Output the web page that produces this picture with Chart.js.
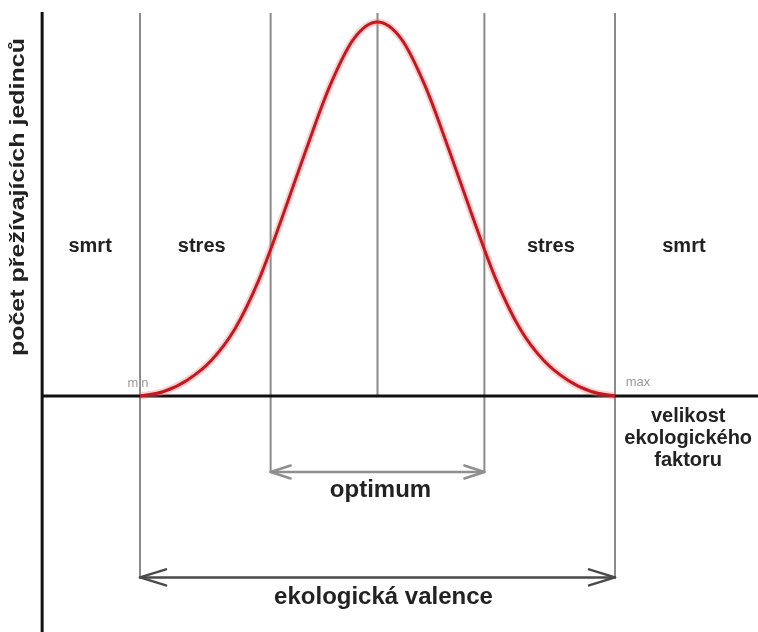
<!DOCTYPE html>
<html><head><meta charset="utf-8">
<script src="https://cdn.jsdelivr.net/npm/chart.js@4/dist/chart.umd.min.js"></script>
<style>html,body{margin:0;padding:0;background:#fff}#wrap{width:758px;height:632px;position:relative}</style>
</head><body><div id="wrap"><canvas id="c"></canvas></div>
<script>
// ---- data ----
const factorX   = [0, 0.5, 1, 1.5, 2, 2.5, 3, 3.5, 4, 4.5, 5, 5.5, 6, 6.5, 7, 7.5, 8, 8.5, 9, 9.5, 10];
const survivors = [0, 1.2, 4.3, 9.5, 18, 31, 48, 66, 83, 95.5, 100, 95.5, 83, 66, 48, 31, 18, 9.5, 4.3, 1.2, 0];
const boundaryX      = [0, 2.75, 5, 7.25, 10];
const boundaryBottom = [-48.5, -20.3, 0, -20.3, -48.5];
const boundaryTop    = 102.4;
const zoneLabels = ['smrt', 'stres', 'stres', 'smrt'];
const zoneX      = [-1.05, 1.3, 8.65, 11.45];
const zoneY      = 40;
const axisX = -2.06, axisTop = 102.7, axisBottom = -63.1, axisRight = 13.01;
const yTitle = 'počet přežívajících jedinců';
const xTitleLines = ['velikost', 'ekologického', 'faktoru'];
const endLabels = ['min', 'max'];
const optimumRange = [2.75, 7.25], optimumY = -20.3, optimumLabel = 'optimum';
const valenceRange = [0, 10], valenceY = -48.5, valenceLabel = 'ekologická valence';

// ---- datasets ----
const curvePts = factorX.map((x, i) => ({x, y: survivors[i]}));
const datasets = [
  {data: curvePts, borderColor: '#c8161e', borderWidth: 3, pointRadius: 0, cubicInterpolationMode: 'monotone', order: 0, clip: false},
  {data: curvePts, borderColor: 'rgba(235,120,120,0.35)', borderWidth: 7, pointRadius: 0, cubicInterpolationMode: 'monotone', order: 1, clip: false},
  {data: [{x: axisX, y: 0}, {x: axisRight, y: 0}], borderColor: '#111', borderWidth: 3, pointRadius: 0, order: 2, clip: false},
  {data: [{x: axisX, y: axisTop}, {x: axisX, y: axisBottom}], borderColor: '#111', borderWidth: 3, pointRadius: 0, order: 2, clip: false}
];
boundaryX.forEach((bx, i) => {
  datasets.push({data: [{x: bx, y: boundaryTop}, {x: bx, y: boundaryBottom[i]}], borderColor: '#8a8a8a', borderWidth: 2, pointRadius: 0, order: 3, clip: false});
});

function arrow(ctx, x1, x2, y, len, spread, color, w) {
  ctx.save();
  ctx.strokeStyle = color; ctx.lineWidth = w; ctx.lineCap = 'round'; ctx.lineJoin = 'round';
  ctx.beginPath(); ctx.moveTo(x1, y); ctx.lineTo(x2, y); ctx.stroke();
  ctx.beginPath(); ctx.moveTo(x1 + len, y - spread); ctx.lineTo(x1, y); ctx.lineTo(x1 + len, y + spread); ctx.stroke();
  ctx.beginPath(); ctx.moveTo(x2 - len, y - spread); ctx.lineTo(x2, y); ctx.lineTo(x2 - len, y + spread); ctx.stroke();
  ctx.restore();
}

const annot = {
  id: 'annot',
  afterDatasetsDraw(chart) {
    const ctx = chart.ctx, xs = chart.scales.x, ys = chart.scales.y;
    const F = '"Liberation Sans", Arial, sans-serif';
    ctx.save();
    ctx.fillStyle = '#222';
    ctx.textAlign = 'center'; ctx.textBaseline = 'middle';
    ctx.font = 'bold 20px ' + F;
    zoneLabels.forEach((t, i) => ctx.fillText(t, xs.getPixelForValue(zoneX[i]), ys.getPixelForValue(zoneY)));
    // arrows
    const oy = ys.getPixelForValue(optimumY);
    arrow(ctx, xs.getPixelForValue(optimumRange[0]), xs.getPixelForValue(optimumRange[1]), oy, 20, 6.5, '#8f8f8f', 2.5);
    const vy = ys.getPixelForValue(valenceY);
    arrow(ctx, xs.getPixelForValue(valenceRange[0]), xs.getPixelForValue(valenceRange[1]), vy, 26, 8, '#4a4a4a', 2.5);
    ctx.fillStyle = '#222';
    ctx.font = 'bold 24px ' + F;
    ctx.fillText(optimumLabel, (xs.getPixelForValue(optimumRange[0]) + xs.getPixelForValue(optimumRange[1])) / 2 + 3, oy + 18);
    ctx.fillText(valenceLabel, (xs.getPixelForValue(valenceRange[0]) + xs.getPixelForValue(valenceRange[1])) / 2 + 6, vy + 20);
    // x axis title
    ctx.font = 'bold 20px ' + F;
    ctx.textBaseline = 'alphabetic';
    const y0 = ys.getPixelForValue(0);
    xTitleLines.forEach((t, i) => ctx.fillText(t, xs.getPixelForValue(11.54), y0 + 26 + i * 22));
    // min / max
    ctx.font = '13px ' + F; ctx.fillStyle = '#9a9a9a'; ctx.textBaseline = 'middle';
    ctx.fillText(endLabels[0], xs.getPixelForValue(valenceRange[0]) - 2, y0 - 13);
    ctx.fillText(endLabels[1], xs.getPixelForValue(valenceRange[1]) + 23, y0 - 14);
    // y title
    ctx.fillStyle = '#222';
    ctx.font = 'bold 21px ' + F;
    const w = ctx.measureText(yTitle).width;
    ctx.translate(xs.getPixelForValue(axisX) - 24, ys.getPixelForValue(53.2));
    ctx.rotate(-Math.PI / 2);
    ctx.scale(318 / w, 1);
    ctx.fillText(yTitle, 0, 0);
    ctx.restore();
  }
};

new Chart(document.getElementById('c'), {
  type: 'line',
  data: {datasets},
  options: {
    responsive: true, maintainAspectRatio: false, animation: false,
    layout: {padding: 0},
    plugins: {legend: {display: false}, tooltip: {enabled: false}},
    scales: {
      x: {type: 'linear', display: false, min: -2.947, max: 13.01},
      y: {type: 'linear', display: false, min: -63.1, max: 105.9}
    }
  },
  plugins: [annot]
});
</script></body></html>
